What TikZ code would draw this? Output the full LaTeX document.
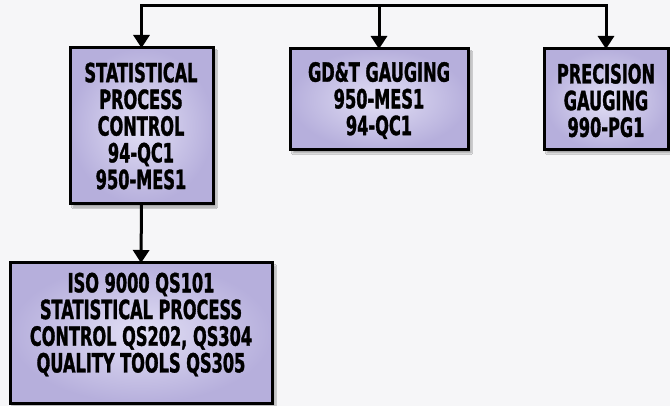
\documentclass[tikz,border=0pt]{standalone}
\usepackage{fontspec}
\newfontfamily\boxfont[FakeStretch=0.61,FakeBold=1.2]{DejaVu Sans}
\usetikzlibrary{arrows.meta,shadows.blur}
\definecolor{bgc}{HTML}{F6F6F8}
\definecolor{boxin}{HTML}{E2DFF5}
\definecolor{boxout}{HTML}{B6AFDC}
\tikzset{
  box/.style={draw=black, line width=3pt, inner color=boxin, outer color=boxout,
    inner sep=0pt, outer sep=0pt,
    blur shadow={shadow xshift=3pt, shadow yshift=-3pt, shadow blur steps=6, shadow opacity=35}},
  boxtext/.style={align=center, inner sep=0pt,
    font=\boxfont\bfseries\fontsize{26.5}{26.7}\selectfont},
  conn/.style={draw=black, line width=3pt},
  tip/.tip={Triangle[length=13pt,width=16pt]}
}
\begin{document}
\begin{tikzpicture}[x=1pt,y=-1pt]
\fill[bgc] (0,0) rectangle (670,406);
\useasboundingbox (0,0) rectangle (670,406);
\node[box, minimum width=143pt, minimum height=156pt] (spc) at (141.5,126) {};
\node[box, minimum width=178pt, minimum height=101pt] (gdt) at (379,99.5) {};
\node[box, minimum width=124pt, minimum height=101pt] (prec) at (606,99.5) {};
\node[box, minimum width=262pt, minimum height=140pt] (iso) at (141,333) {};
\node[boxtext] (spct) at (141,126) {STATISTICAL\\PROCESS\\CONTROL\\94-QC1\\950-MES1};
\node[boxtext] (gdtt) at (379,100.5) {GD\&T GAUGING\\950-MES1\\94-QC1};
\node[boxtext] (prect) at (606,100.5) {PRECISION\\GAUGING\\990-PG1};
\node[boxtext] (isot) at (141,324.5) {ISO 9000 QS101\\STATISTICAL PROCESS\\CONTROL QS202, QS304\\QUALITY TOOLS QS305};
\coordinate (top) at (379,5.5);
\draw[conn, tip-tip] (spc.north) |- (top) -| (prec.north);
\draw[conn, -tip] (top) -- (gdt.north);
\draw[conn, -tip] (spc.south) -- (iso.north);
\end{tikzpicture}
\end{document}
